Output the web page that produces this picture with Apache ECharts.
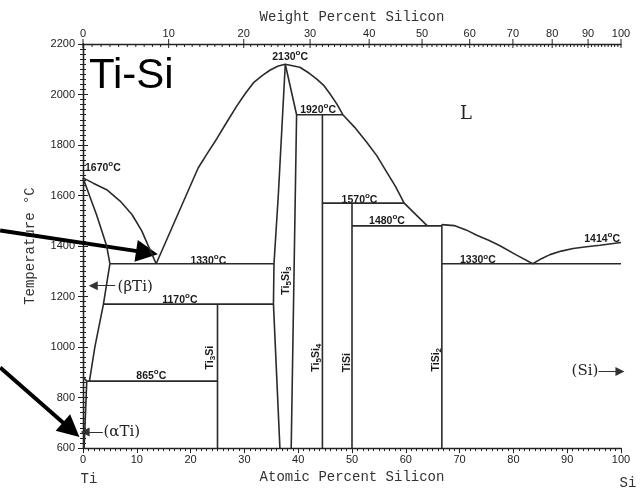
<!DOCTYPE html>
<html><head><meta charset="utf-8">
<script src="https://cdn.jsdelivr.net/npm/echarts@6/dist/echarts.min.js"></script>
<style>html,body{margin:0;padding:0;background:#fff}#c{width:641px;height:489px}</style>
</head><body><div id="c"></div>
<script>
// ---- axis ticks ----
const weightTicks = [0,10,20,30,40,50,60,70,80,90,100];   // top axis, weight % Si
const M_TI = 47.867, M_SI = 28.086;                        // atomic masses for wt% -> at%

// ---- phase boundaries [atomic % Si, T in °C] ----
const liqTi       = [[0,1670],[1.9,1649],[4.4,1623],[6.9,1578],[9.1,1525],[10.9,1461],[12.5,1383],[13.6,1330]];
const solidusBeta = [[0,1670],[1.2,1600],[2.5,1525],[3.5,1460],[4.4,1400],[5.0,1330]];
const solvusBeta  = [[5.0,1330],[3.8,1170],[2.2,1000],[1.2,865]];
const eutCorner   = [[0,880],[0.4,872],[0.7,865]];
const solvusAlpha = [[0.7,865],[0.2,600]];
const eut865      = [[0.7,865],[25,865]];
const eut1330a    = [[5.0,1330],[35.5,1330]];
const per1170     = [[3.8,1170],[35.4,1170]];
const ti3si       = [[25,1170],[25,600]];
const liqDome     = [[13.6,1330],[21.4,1709],[23.2,1770],[24.9,1826],[26.8,1893],[28.6,1955],[30.2,2005],[31.7,2047],[33.3,2075],[34.8,2097],[36.3,2113],[37.6,2120],
                     [40.3,2108],[42.0,2085],[43.4,2062],[44.8,2035],[45.9,2003],[47.2,1962],[48.3,1920],[50.5,1870],[52.7,1812],[54.6,1758],[56.4,1695],[58.1,1635],[59.7,1570]];
const ti5si3Left  = [[37.6,2120],[36.3,1600],[35.5,1330],[35.4,1170],[36.6,600]];
const ti5si3Right = [[37.6,2120],[39.7,1920],[38.7,600]];
const per1920     = [[39.7,1920],[48.3,1920]];
const ti5si4      = [[44.5,1920],[44.5,600]];
const per1570     = [[44.5,1570],[59.7,1570]];
const liqTiSi     = [[59.7,1570],[64,1480]];
const tisi        = [[50,1570],[50,600]];
const eut1480     = [[50,1480],[66.7,1480]];
const tisi2       = [[66.7,1485],[66.7,600]];
const liqTiSi2    = [[66.7,1485],[69,1481],[71.2,1464],[73.2,1443],[75.4,1423],[77.5,1401],[80.6,1364],[83.6,1330]];
const liqSi       = [[83.6,1330],[85.2,1350],[86.8,1366],[88.9,1380],[91.1,1390],[93.6,1397],[96.1,1403],[100,1414]];
const eut1330b    = [[66.7,1330],[100,1330]];

const phaseLines = [liqTi,solidusBeta,solvusBeta,eutCorner,solvusAlpha,eut865,eut1330a,per1170,ti3si,liqDome,ti5si3Left,ti5si3Right,
  per1920,ti5si4,per1570,liqTiSi,tisi,eut1480,tisi2,liqTiSi2,liqSi,eut1330b];

// ---- annotations [text, at%, T] ----
const tempLabels = [['1670',3.7,1708],['2130',38.5,2150],['1920',43.7,1938],['1570',51.4,1582],['1480',56.5,1500],
  ['1330',23.3,1342],['1170',18.0,1187],['865',12.7,887],['1330',73.4,1343],['1414',96.5,1428]];
const phaseLabels = [['{n|Ti}{s|3}{n|Si}',23.6,958],['{n|Ti}{s|5}{n|Si}{s|3}',37.7,1263],['{n|Ti}{s|5}{n|Si}{s|4}',43.3,958],
  ['{n|TiSi}',49.1,938],['{n|TiSi}{s|2}',65.6,950]];
const fieldLabels = [['(βTi)',9.7,1239],['(αTi)',7.2,665],['(Si)',93.3,903],['L',71.2,1923]];
const endLabels = [['Ti',1.1,478],['Si',101.3,462]];
const titleLabel = ['Ti-Si',1.1,2071];
const pointerArrows = [[[6.0,1243],[1.9,1243]],[[3.7,664],[0.4,664]],[[95.8,903],[99.8,903]]];
const bigArrows = [[[-15.4,1462],[11.9,1374]],[[-15.4,919],[-2.2,673]]];

function wtToAt(w){ const a=w/M_SI, b=(100-w)/M_TI; return 100*a/(a+b); }

const LINE = '#2a2a2a';
const series = [];
phaseLines.forEach(d=>series.push({type:'line',data:d,showSymbol:false,silent:true,lineStyle:{color:LINE,width:1.6},animation:false}));

series.push({type:'lines',coordinateSystem:'cartesian2d',clip:false,silent:true,animation:false,
  symbol:['none','triangle'],symbolSize:[7,9],lineStyle:{color:'#333',width:1,opacity:1},
  data:pointerArrows.map(c=>({coords:c}))});
series.push({type:'lines',coordinateSystem:'cartesian2d',clip:false,silent:true,animation:false,
  symbol:['none','triangle'],symbolSize:[17,22],lineStyle:{color:'#000',width:4,opacity:1},itemStyle:{color:'#000'},
  data:bigArrows.map(c=>({coords:c}))});

// top (weight %) axis ticks and labels
const minorW = []; for(let w=0;w<=100;w++) minorW.push(w);
series.push({type:'custom',coordinateSystem:'cartesian2d',clip:false,silent:true,animation:false,
  data:minorW.map(w=>[wtToAt(w),2200,w]),
  renderItem:(params,api)=>{
    const w=api.value(2); const p=api.coord([api.value(0),2200]);
    const major = weightTicks.indexOf(w)>=0;
    const ch=[{type:'line',shape:{x1:p[0],y1:p[1]-(major?5:0),x2:p[0],y2:p[1]+(major?4:3)},style:{stroke:'#222',lineWidth:1}}];
    if(major) ch.push({type:'text',x:p[0],y:p[1]-10,style:{text:String(w),fill:'#222',fontSize:11,fontFamily:'Liberation Sans',align:'center',verticalAlign:'middle'}});
    return {type:'group',children:ch};
  }});

// temperature labels
series.push({type:'custom',coordinateSystem:'cartesian2d',clip:false,silent:true,animation:false,
  data:tempLabels.map((l,i)=>[l[1],l[2],i]),
  renderItem:(params,api)=>{
    const p=api.coord([api.value(0),api.value(1)]); const l=tempLabels[api.value(2)];
    return {type:'text',x:p[0],y:p[1],style:{text:'{n|'+l[0]+'}{d|o}{n|C}',align:'center',verticalAlign:'middle',fill:'#1a1a1a',
      rich:{n:{fontSize:10.5,fontWeight:'bold',fontFamily:'Liberation Sans',lineHeight:16,fill:'#1a1a1a'},
            d:{fontSize:8,fontWeight:'bold',fontFamily:'Liberation Sans',lineHeight:9,verticalAlign:'top',fill:'#1a1a1a'}}}};
  }});
// phase labels rotated
series.push({type:'custom',coordinateSystem:'cartesian2d',clip:false,silent:true,animation:false,
  data:phaseLabels.map((l,i)=>[l[1],l[2],i]),
  renderItem:(params,api)=>{
    const p=api.coord([api.value(0),api.value(1)]); const l=phaseLabels[api.value(2)];
    return {type:'text',x:p[0],y:p[1],rotation:Math.PI/2,style:{text:l[0],align:'center',verticalAlign:'middle',fill:'#1a1a1a',
      rich:{n:{fontSize:10.5,fontWeight:'bold',fontFamily:'Liberation Sans',lineHeight:14,fill:'#1a1a1a'},
            s:{fontSize:8,fontWeight:'bold',fontFamily:'Liberation Sans',lineHeight:8,verticalAlign:'bottom',fill:'#1a1a1a'}}}};
  }});
// field labels
series.push({type:'custom',coordinateSystem:'cartesian2d',clip:false,silent:true,animation:false,
  data:fieldLabels.map((l,i)=>[l[1],l[2],i]),
  renderItem:(params,api)=>{
    const p=api.coord([api.value(0),api.value(1)]); const l=fieldLabels[api.value(2)];
    return {type:'text',x:p[0],y:p[1],style:{text:l[0],align:'center',verticalAlign:'middle',fill:'#222',
      fontSize:l[0]==='L'?18:15,fontFamily:'DejaVu Serif'}};
  }});
// Ti / Si end labels and title
series.push({type:'custom',coordinateSystem:'cartesian2d',clip:false,silent:true,animation:false,
  data:endLabels.map((l,i)=>[l[1],l[2],i]),
  renderItem:(params,api)=>{
    const p=api.coord([api.value(0),api.value(1)]); const l=endLabels[api.value(2)];
    return {type:'text',x:p[0],y:p[1],style:{text:l[0],align:'center',verticalAlign:'middle',fill:'#333',fontSize:14,fontFamily:'Liberation Mono'}};
  }});
series.push({type:'custom',coordinateSystem:'cartesian2d',clip:false,silent:true,animation:false,
  data:[[titleLabel[1],titleLabel[2]]],
  renderItem:(params,api)=>{
    const p=api.coord([api.value(0),api.value(1)]);
    return {type:'text',x:p[0],y:p[1],style:{text:titleLabel[0],align:'left',verticalAlign:'middle',fill:'#000',fontSize:42,fontFamily:'Liberation Sans'}};
  }});

const axisFont = {color:'#222',fontSize:11,fontFamily:'Liberation Sans'};
const nameFont = {color:'#333',fontSize:14,fontFamily:'Liberation Mono'};
const chart = echarts.init(document.getElementById('c'),null,{renderer:'canvas'});
chart.setOption({
  animation:false,
  backgroundColor:'#fff',
  grid:{left:83,right:20,top:44,bottom:36},
  xAxis:[
    {type:'value',position:'bottom',min:0,max:100,interval:10,
     name:'Atomic Percent Silicon',nameLocation:'middle',nameGap:20,nameTextStyle:nameFont,
     axisLine:{lineStyle:{color:'#222',width:1.3}},axisTick:{length:5,lineStyle:{color:'#222'}},
     minorTick:{show:true,splitNumber:10,length:3,lineStyle:{color:'#222'}},
     axisLabel:Object.assign({margin:6,formatter:v=>String(v)},axisFont),splitLine:{show:false}},
    {type:'value',position:'top',min:0,max:100,
     name:'Weight Percent Silicon',nameLocation:'middle',nameGap:20,nameTextStyle:nameFont,
     axisLine:{lineStyle:{color:'#222',width:1.3}},axisTick:{show:false},axisLabel:{show:false},splitLine:{show:false}}
  ],
  yAxis:[
    {type:'value',position:'left',min:600,max:2200,interval:200,
     name:'Temperature °C',nameLocation:'middle',nameGap:46,nameTextStyle:nameFont,
     axisLine:{show:true,lineStyle:{color:'#222',width:1.3}},axisTick:{show:true,length:5,lineStyle:{color:'#222'}},
     minorTick:{show:true,splitNumber:10,length:3,lineStyle:{color:'#222'}},
     axisLabel:Object.assign({margin:8,formatter:v=>String(v)},axisFont),splitLine:{show:false}},
    {type:'value',position:'right',min:600,max:2200,interval:200,
     axisLine:{show:true,lineStyle:{color:'#222',width:1.3}},axisTick:{show:true,length:5,lineStyle:{color:'#222'}},
     minorTick:{show:true,splitNumber:10,length:3,lineStyle:{color:'#222'}},
     axisLabel:{show:false},splitLine:{show:false}}
  ],
  series:series
});
</script></body></html>
